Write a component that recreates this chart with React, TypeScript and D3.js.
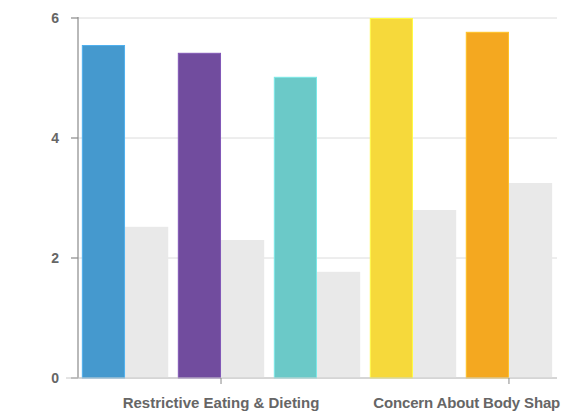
import React from "react";
import * as d3 from "d3";

// Subscale groups and their two series: the sample score and the norm score
const groups = ["Restraint", "Eating Concern", "Weight Concern", "Shape Concern", "Body Dissatisfaction"];
const sampleScores = [5.55, 5.42, 5.02, 6.0, 5.77];
const normScores = [2.52, 2.3, 1.77, 2.8, 3.25];
const groupColors = ["#4599CE", "#714C9E", "#6BC9C8", "#F6D93B", "#F4A820"];
const normColor = "#E9E9E9";
const yTicks = [0, 2, 4, 6];
// Axis ticks sit under the second and fifth groups
const tickGroups = [1, 4];
const axisLabels = ["Restrictive Eating & Dieting", "Concern About Body Shap"];

const W = 568;
const H = 414;
const plot = { left: 78, right: 556, top: 18, bottom: 378 };

export default function App() {
  const x = d3
    .scaleBand<string>()
    .domain(groups)
    .range([plot.left, plot.right])
    .paddingInner(0.1)
    .paddingOuter(0.04);
  const sub = d3.scaleBand<string>().domain(["sample", "norm"]).range([0, x.bandwidth()]);
  const y = d3.scaleLinear().domain([0, 6]).range([plot.bottom, plot.top]);

  const font = "'Liberation Sans', Arial, Helvetica, sans-serif";
  const center = (gi: number) => x(groups[gi])! + x.bandwidth() / 2;

  return (
    <svg
      width={W}
      height={H}
      style={{ position: "absolute", left: 0, top: 0, background: "#fff" }}
    >
      {/* gridlines */}
      {yTicks.map((t) => (
        <line
          key={"g" + t}
          x1={plot.left}
          x2={plot.right + 1}
          y1={y(t)}
          y2={y(t)}
          stroke={t === 0 ? "#c8c8c8" : "#dcdcdc"}
          strokeWidth={1}
        />
      ))}
      {/* bars */}
      {groups.map((g, i) => (
        <g key={g} transform={`translate(${x(g)},0)`}>
          <rect
            x={sub("norm")}
            y={y(normScores[i])}
            width={sub.bandwidth()}
            height={y(0) - y(normScores[i])}
            fill={normColor}
          />
          <rect
            x={sub("sample")! + 0.5}
            y={y(sampleScores[i]) + 0.5}
            width={sub.bandwidth() - 1}
            height={y(0) - y(sampleScores[i]) - 0.5}
            fill={groupColors[i]}
            stroke={d3.color(groupColors[i])!.brighter(0.4).toString()}
            strokeWidth={1}
          />
        </g>
      ))}
      {/* y axis */}
      <line x1={plot.left} x2={plot.left} y1={plot.top - 1} y2={plot.bottom} stroke="#8a8a8a" strokeWidth={1.2} />
      {yTicks.map((t) => (
        <g key={"t" + t}>
          <line x1={plot.left - 7} x2={plot.left} y1={y(t)} y2={y(t)} stroke="#8a8a8a" strokeWidth={1.2} />
          <text
            x={59}
            y={y(t) + 5}
            textAnchor="end"
            fontFamily={font}
            fontWeight="bold"
            fontSize={14}
            fill="#666"
          >
            {t}
          </text>
        </g>
      ))}
      {/* x axis ticks and labels */}
      <line x1={plot.left - 12} x2={plot.right + 1} y1={plot.bottom} y2={plot.bottom} stroke="#c8c8c8" strokeWidth={1} />
      {tickGroups.map((gi) => (
        <line key={"xt" + gi} x1={center(gi)} x2={center(gi)} y1={plot.bottom} y2={plot.bottom + 6} stroke="#8a8a8a" strokeWidth={1} />
      ))}
      <text x={center(tickGroups[0])} y={408} textAnchor="middle" fontFamily={font} fontWeight="bold" fontSize={15} fill="#666">
        {axisLabels[0]}
      </text>
      <text x={x(groups[3])! + 3.5} y={408} textAnchor="start" fontFamily={font} fontWeight="bold" fontSize={15} letterSpacing={-0.15} fill="#666">
        {axisLabels[1]}
      </text>
    </svg>
  );
}
